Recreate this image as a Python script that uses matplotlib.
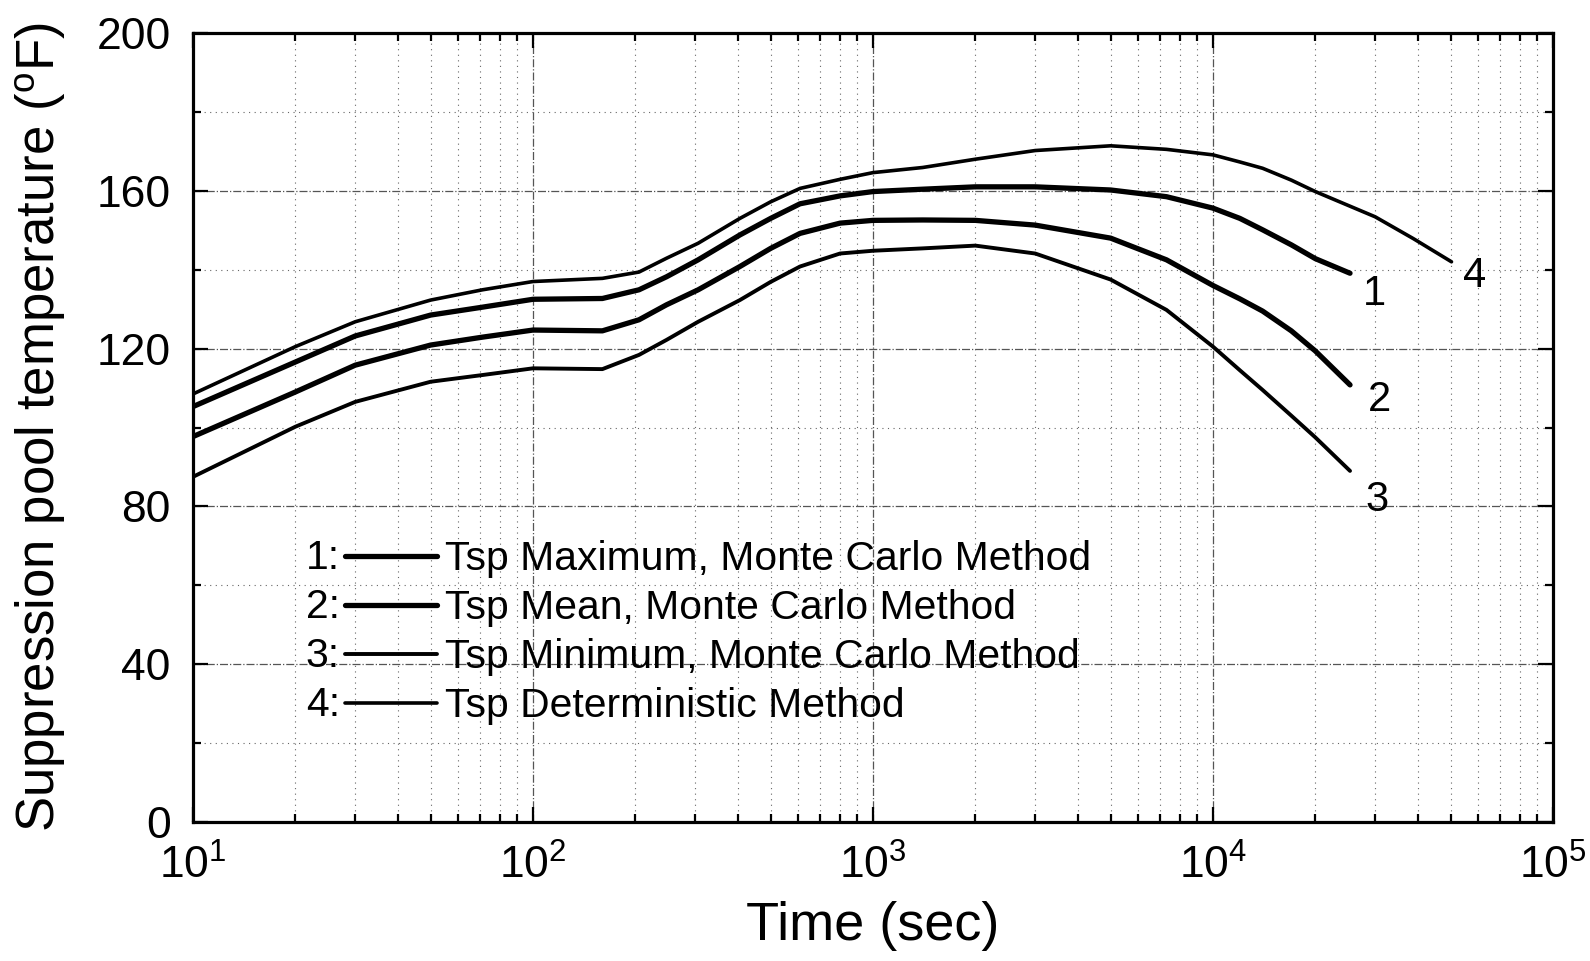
import matplotlib
matplotlib.use("Agg")
import matplotlib.pyplot as plt
from matplotlib.ticker import MultipleLocator, LogLocator, NullFormatter, LogFormatterMathtext

plt.rcParams['font.family'] = ['Liberation Sans', 'DejaVu Sans']
plt.rcParams['mathtext.fontset'] = 'custom'
plt.rcParams['mathtext.rm'] = 'Liberation Sans'
plt.rcParams['mathtext.it'] = 'Liberation Sans:italic'
plt.rcParams['mathtext.bf'] = 'Liberation Sans:bold'

# Time (s) and suppression pool temperature (F) for each case
t_mc = [10, 20, 30, 50, 71, 100, 160, 205, 247, 306, 406, 500, 610, 800, 1000,
        1400, 2000, 3000, 5000, 7300, 10000, 12000, 14000, 17000, 20000, 25300]
tsp_max = [105.3, 116.6, 123.2, 128.5, 130.5, 132.5, 132.7, 134.9, 138.2, 142.5,
           148.8, 153.0, 156.7, 158.7, 159.8, 160.4, 161.0, 161.0, 160.2, 158.5,
           155.6, 153.0, 150.1, 146.3, 142.8, 139.1]
tsp_mean = [97.7, 109.0, 115.8, 120.9, 122.9, 124.7, 124.5, 127.3, 131.1, 134.9,
            140.8, 145.4, 149.2, 151.8, 152.5, 152.6, 152.5, 151.3, 148.0, 142.5,
            136.0, 132.6, 129.5, 124.5, 119.4, 110.8]
tsp_min = [87.5, 100.2, 106.5, 111.6, 113.3, 115.0, 114.8, 118.4, 122.2, 126.8,
           132.3, 136.9, 140.8, 144.1, 144.8, 145.4, 146.1, 144.1, 137.5, 129.8,
           120.5, 114.5, 109.5, 103.0, 97.5, 89.0]

t_det = [10, 20, 30, 50, 71, 100, 160, 205, 247, 306, 406, 500, 610, 800, 1000,
         1400, 2000, 3000, 5000, 7300, 10000, 12000, 14000, 17000, 20000, 30000,
         38800, 50300]
tsp_det = [108.5, 120.5, 126.8, 132.3, 134.9, 137.0, 137.8, 139.4, 142.9, 146.7,
           153.0, 157.2, 160.6, 162.9, 164.6, 165.9, 168.0, 170.2, 171.4, 170.5,
           169.1, 167.3, 165.7, 162.7, 159.8, 153.4, 147.9, 142.0]

legend_labels = ["Tsp Maximum, Monte Carlo Method",
                 "Tsp Mean, Monte Carlo Method",
                 "Tsp Minimum, Monte Carlo Method",
                 "Tsp Deterministic Method"]
curve_ids = ["1", "2", "3", "4"]
id_pos_t = [29800, 30800, 30300, 58900]
id_pos_T = [133.8, 107.0, 81.6, 138.4]

fig = plt.figure(figsize=(15.9, 9.61), dpi=100)
ax = fig.add_axes([0.1214, 0.1446, 0.8553, 0.8211])

series = [(t_mc, tsp_max, 3.8), (t_mc, tsp_mean, 3.8),
          (t_mc, tsp_min, 2.8), (t_det, tsp_det, 2.6)]
handles = []
for (tt, vals, lw), lab in zip(series, legend_labels):
    h, = ax.plot(tt, vals, color='black', lw=lw, solid_capstyle='round',
                 solid_joinstyle='round', label=lab)
    handles.append(h)

ax.set_xscale('log')
ax.set_xlim(10, 1e5)
ax.set_ylim(0, 200)
ax.yaxis.set_major_locator(MultipleLocator(40))
ax.yaxis.set_minor_locator(MultipleLocator(20))
ax.xaxis.set_major_locator(LogLocator(base=10))
ax.xaxis.set_major_formatter(LogFormatterMathtext())
ax.xaxis.set_minor_locator(LogLocator(base=10, subs=range(2, 10)))
ax.xaxis.set_minor_formatter(NullFormatter())

ax.grid(True, which='major', color='#555555', lw=0.9, ls='-.')
ax.grid(True, which='minor', color='#666666', lw=0.8, ls=(0, (1, 4)))
ax.set_axisbelow(True)

for s in ax.spines.values():
    s.set_linewidth(2.3)
ax.tick_params(which='both', direction='in', top=True, right=True, width=1.6)
ax.tick_params(which='major', length=11, labelsize=32, pad=16)
ax.tick_params(which='minor', length=6)

ax.set_xlabel('Time (sec)', fontsize=39, labelpad=10)
ax.set_ylabel(r'Suppression pool temperature ($\mathregular{^o}$F)', fontsize=38)
ax.yaxis.set_label_coords(-0.092, 0.5)

for cid, tx, ty in zip(curve_ids, id_pos_t, id_pos_T):
    ax.text(tx, ty, cid, fontsize=30, ha='center', va='center')

leg = ax.legend(handles=handles, loc='upper left', bbox_to_anchor=(0.112, 0.357),
                frameon=False, fontsize=29.4, handlelength=2.25, handletextpad=0.2,
                labelspacing=0.27, borderpad=0, borderaxespad=0)
for h in leg.legend_handles:
    h.set_color('black')

row_y = [0.334, 0.272, 0.210, 0.148]
for cid, ry in zip(curve_ids, row_y):
    ax.text(0.108, ry, cid + ':', transform=ax.transAxes, fontsize=29.4,
            ha='right', va='center')

fig.savefig('out.png', dpi=100)
